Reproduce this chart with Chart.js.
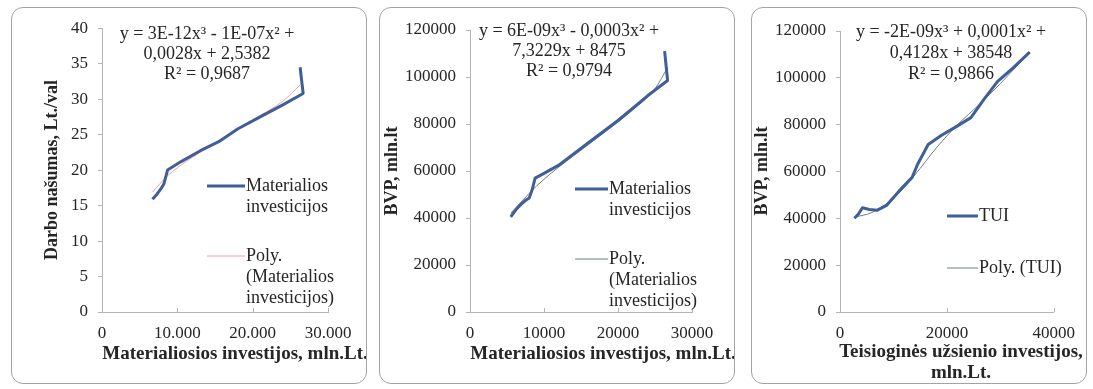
<!DOCTYPE html>
<html>
<head>
<meta charset="utf-8">
<script src="https://cdn.jsdelivr.net/npm/chart.js@4/dist/chart.umd.min.js"></script>
<style>
  html, body { margin: 0; padding: 0; background: #fff; }
  body { width: 1093px; height: 389px; position: relative; overflow: hidden; }
  .panel { position: absolute; border: 1px solid #a3a3a3; border-radius: 12px; box-sizing: border-box; background: #fff; }
  .panel canvas { position: absolute; left: 0; top: 0; }
</style>
</head>
<body>
<div class="panel" id="p1" style="left:11px;top:7px;width:356px;height:377px"><canvas id="c1"></canvas></div>
<div class="panel" id="p2" style="left:379px;top:7px;width:356px;height:377px"><canvas id="c2"></canvas></div>
<div class="panel" id="p3" style="left:751px;top:7px;width:336px;height:377px"><canvas id="c3"></canvas></div>
<script>
// Labour productivity (Lt/h) against material investment (mln. Lt)
const prodInvX = [6700, 7300, 7900, 8200, 8700, 10500, 13000, 15500, 18000, 21000, 24000, 26700, 26300];
const prodY    = [15.9, 16.6, 17.5, 18.0, 20.0, 21.2, 22.7, 24.0, 25.8, 27.5, 29.2, 30.8, 34.5];
const prodTrendX = [6700, 8700, 12000, 16000, 20000, 24000, 26300];
const prodTrendY = [16.9, 19.2, 21.8, 24.5, 27.1, 29.7, 32.0];

// GDP (mln. Lt) against material investment (mln. Lt)
const gdpInvX = [5500, 6200, 6800, 7500, 8000, 8400, 8800, 10000, 12000, 16000, 20000, 24000, 26700, 26300];
const gdpInvY = [40500, 43500, 45500, 47500, 48500, 52000, 57000, 59000, 62500, 72000, 81500, 92000, 98500, 111000];
const gdpInvTrendX = [5500, 8000, 10000, 14000, 18000, 22000, 25000, 26700];
const gdpInvTrendY = [42000, 50500, 56500, 66500, 76000, 86000, 95000, 104000];

// GDP (mln. Lt) against foreign direct investment (mln. Lt)
const fdiX = [2700, 3500, 4200, 5500, 7000, 8700, 11000, 13500, 14500, 16500, 19000, 22000, 24500, 27000, 29500, 32500, 35500];
const fdiY = [40000, 42000, 44500, 43800, 43500, 45500, 51500, 57500, 63000, 71500, 75500, 79500, 83000, 91000, 98500, 104500, 111000];
const fdiTrendX = [2700, 6000, 10000, 14000, 18000, 22000, 26000, 30000, 35500];
const fdiTrendY = [40500, 42500, 48500, 58500, 70000, 80000, 88500, 97500, 111000];

// Tick labels
const prodYTicks = [0, 5, 10, 15, 20, 25, 30, 35, 40];
const prodXTicks = ['0', '10.000', '20.000', '30.000'];
const gdpYTicks = ['0', '20000', '40000', '60000', '80000', '100000', '120000'];
const invXTicks = ['0', '10000', '20000', '30000'];
const fdiXTicks = ['0', '20000', '40000'];

const SERIF = "'Liberation Serif', 'Times New Roman', serif";
const DATA_COLOR = '#3f5f96';
const TEXT_COLOR = '#262626';
const AXIS_COLOR = '#b4b4b4';

function pts(xs, ys) { return xs.map((x, i) => ({ x: x, y: ys[i] })); }

// Free text, rotated axis titles, inner x tick marks and the inline legend
const panelText = {
  id: 'panelText',
  afterDraw(chart, args, opts) {
    const ctx = chart.ctx;
    const xs = chart.scales.x;
    ctx.save();
    ctx.strokeStyle = AXIS_COLOR;
    ctx.lineWidth = 1;
    xs.ticks.forEach(t => {
      const px = Math.round(xs.getPixelForValue(t.value)) + 0.5;
      ctx.beginPath();
      ctx.moveTo(px, xs.top);
      ctx.lineTo(px, xs.top - 4);
      ctx.stroke();
    });
    ctx.textBaseline = 'middle';
    (opts.items || []).forEach(it => {
      ctx.save();
      ctx.font = (it.bold ? 'bold ' : '') + it.size + 'px ' + SERIF;
      ctx.fillStyle = TEXT_COLOR;
      ctx.textAlign = it.align || 'center';
      ctx.translate(it.x, it.y);
      if (it.rotate) ctx.rotate(it.rotate);
      ctx.fillText(it.text, 0, 0);
      ctx.restore();
    });
    (opts.legend || []).forEach(lg => {
      const ds = chart.data.datasets[lg.dataset];
      ctx.strokeStyle = ds.borderColor;
      ctx.lineWidth = ds.borderWidth;
      ctx.beginPath();
      ctx.moveTo(lg.x1, lg.y);
      ctx.lineTo(lg.x2, lg.y);
      ctx.stroke();
      ctx.font = '18px ' + SERIF;
      ctx.fillStyle = TEXT_COLOR;
      ctx.textAlign = 'left';
      lg.lines.forEach((t, i) => ctx.fillText(t, lg.x2 + 1, lg.y + i * 21));
    });
    ctx.restore();
  }
};

function makeChart(id, w, h, box, cfg) {
  const cv = document.getElementById(id);
  cv.width = w; cv.height = h;
  cv.style.width = w + 'px'; cv.style.height = h + 'px';
  return new Chart(cv, {
    type: 'scatter',
    data: {
      datasets: [
        { label: cfg.names[0], data: pts(cfg.x, cfg.y), showLine: true, borderColor: DATA_COLOR, borderWidth: 3,
          pointRadius: 0, tension: 0, borderJoinStyle: 'round' },
        { label: cfg.names[1], data: pts(cfg.tx, cfg.ty), showLine: true, borderColor: cfg.trendColor, borderWidth: 1,
          pointRadius: 0, tension: 0.4, cubicInterpolationMode: 'monotone' }
      ]
    },
    options: {
      responsive: false, animation: false,
      layout: { padding: { left: 0, top: box.top, right: w - box.right, bottom: 0 } },
      plugins: { legend: { display: false }, tooltip: { enabled: false }, panelText: cfg.text },
      scales: {
        x: {
          type: 'linear', min: 0, max: cfg.xMax,
          afterFit: s => { s.height = h - box.bottom; },
          afterBuildTicks: s => { s.ticks = cfg.xTicks.map((t, i) => ({ value: i * cfg.xStep })); },
          ticks: { font: { family: SERIF, size: 17 }, color: TEXT_COLOR, padding: 11, maxRotation: 0,
                   callback: (v, i) => cfg.xTicks[i] },
          grid: { drawOnChartArea: false, drawTicks: false, tickLength: 0 },
          border: { color: AXIS_COLOR, width: 1 }
        },
        y: {
          type: 'linear', min: 0, max: cfg.yMax,
          afterFit: s => { s.width = box.left; },
          afterBuildTicks: s => { s.ticks = cfg.yTicks.map((t, i) => ({ value: i * cfg.yStep })); },
          ticks: { font: { family: SERIF, size: 17 }, color: TEXT_COLOR, padding: 10,
                   callback: (v, i) => String(cfg.yTicks[i]) },
          grid: { drawOnChartArea: false, color: AXIS_COLOR, tickLength: 4 },
          border: { color: AXIS_COLOR, width: 1 }
        }
      }
    },
    plugins: [panelText]
  });
}

const ROT = -Math.PI / 2;

makeChart('c1', 354, 375, { left: 90, right: 316, top: 20, bottom: 304 }, {
  names: ['Materialios investicijos', 'Poly. (Materialios investicijos)'],
  x: prodInvX, y: prodY, tx: prodTrendX, ty: prodTrendY, trendColor: '#f2a0a6',
  xMax: 30000, xStep: 10000, xTicks: prodXTicks, yMax: 40, yStep: 5, yTicks: prodYTicks,
  text: {
    items: [
      { text: 'y = 3E-12x³ - 1E-07x² +', x: 195, y: 26, size: 18 },
      { text: '0,0028x + 2,5382', x: 195, y: 46, size: 18 },
      { text: 'R² = 0,9687', x: 195, y: 66, size: 18 },
      { text: 'Darbo našumas, Lt./val', x: 40, y: 162, size: 18, bold: true, rotate: ROT },
      { text: 'Materialiosios investijos, mln.Lt.', x: 223, y: 346, size: 19, bold: true }
    ],
    legend: [
      { dataset: 0, x1: 195, x2: 233, y: 178, lines: ['Materialios', 'investicijos'] },
      { dataset: 1, x1: 195, x2: 233, y: 248, lines: ['Poly.', '(Materialios', 'investicijos)'] }
    ]
  }
});

makeChart('c2', 354, 375, { left: 90, right: 312, top: 22, bottom: 304 }, {
  names: ['Materialios investicijos', 'Poly. (Materialios investicijos)'],
  x: gdpInvX, y: gdpInvY, tx: gdpInvTrendX, ty: gdpInvTrendY, trendColor: '#6f7c90',
  xMax: 30000, xStep: 10000, xTicks: invXTicks, yMax: 120000, yStep: 20000, yTicks: gdpYTicks,
  text: {
    items: [
      { text: 'y = 6E-09x³ - 0,0003x² +', x: 189, y: 23, size: 18 },
      { text: '7,3229x + 8475', x: 189, y: 43, size: 18 },
      { text: 'R² = 0,9794', x: 189, y: 63, size: 18 },
      { text: 'BVP, mln.lt', x: 12, y: 163, size: 18, bold: true, rotate: ROT },
      { text: 'Materialiosios investijos, mln.Lt.', x: 223, y: 346, size: 19, bold: true }
    ],
    legend: [
      { dataset: 0, x1: 195, x2: 228, y: 181, lines: ['Materialios', 'investicijos'] },
      { dataset: 1, x1: 195, x2: 228, y: 251, lines: ['Poly.', '(Materialios', 'investicijos)'] }
    ]
  }
});

makeChart('c3', 334, 375, { left: 88, right: 308, top: 23, bottom: 304 }, {
  names: ['TUI', 'Poly. (TUI)'],
  x: fdiX, y: fdiY, tx: fdiTrendX, ty: fdiTrendY, trendColor: '#6f7c90',
  xMax: 40000, xStep: 20000, xTicks: fdiXTicks, yMax: 120000, yStep: 20000, yTicks: gdpYTicks,
  text: {
    items: [
      { text: 'y = -2E-09x³ + 0,0001x² +', x: 199, y: 24, size: 18 },
      { text: '0,4128x + 38548', x: 199, y: 45, size: 18 },
      { text: 'R² = 0,9866', x: 199, y: 66, size: 18 },
      { text: 'BVP, mln.lt', x: 10, y: 163, size: 18, bold: true, rotate: ROT },
      { text: 'Teisioginės užsienio investijos,', x: 209, y: 344, size: 19, bold: true },
      { text: 'mln.Lt.', x: 209, y: 365, size: 19, bold: true }
    ],
    legend: [
      { dataset: 0, x1: 195, x2: 226, y: 208, lines: ['TUI'] },
      { dataset: 1, x1: 195, x2: 226, y: 260, lines: ['Poly. (TUI)'] }
    ]
  }
});
</script>
</body>
</html>
